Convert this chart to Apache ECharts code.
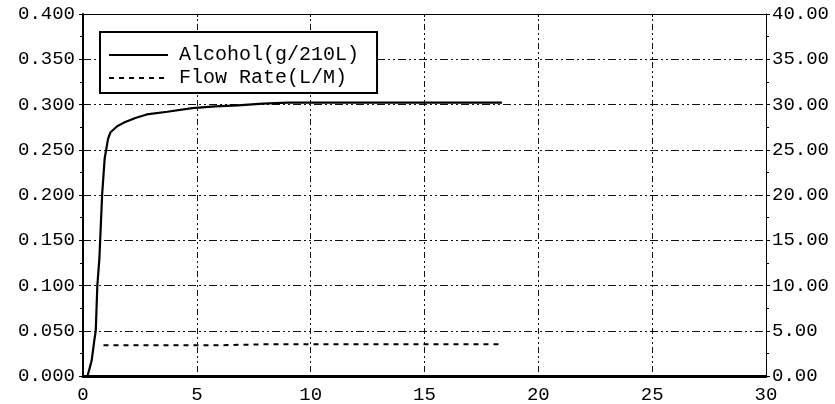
<!DOCTYPE html>
<html>
<head>
<meta charset="utf-8">
<script src="https://cdn.jsdelivr.net/npm/echarts@6/dist/echarts.min.js"></script>
<style>
html,body{margin:0;padding:0;background:#fff;}
#chart{width:835px;height:404px;}
</style>
</head>
<body>
<div id="chart"></div>
<script>
const alcoholTime  = [0, 0.2, 0.38, 0.5, 0.56, 0.63, 0.72, 0.84, 0.95, 1.1, 1.2, 1.5, 1.8, 2.3, 2.8, 3.7, 4.8, 5.8, 6.8, 7.9, 9, 12, 15, 18.4];
const alcoholValue = [0, 0, 0.017, 0.04, 0.05, 0.1, 0.13, 0.2, 0.24, 0.262, 0.269, 0.276, 0.28, 0.285, 0.289, 0.292, 0.296, 0.298, 0.299, 0.301, 0.302, 0.302, 0.302, 0.302];
const flowTime  = [0.9, 2, 4, 6, 8, 10, 12, 14, 16, 18.4];
const flowValue = [3.4, 3.4, 3.4, 3.4, 3.5, 3.5, 3.5, 3.5, 3.5, 3.5];
const seriesNames = ['Alcohol(g/210L)', 'Flow Rate(L/M)'];

const FONT = 'Liberation Mono';
const chart = echarts.init(document.getElementById('chart'), null, {renderer: 'canvas'});

function pairs(xs, ys) { return xs.map((x, i) => [x, ys[i]]); }

chart.setOption({
  animation: false,
  backgroundColor: '#fff',
  grid: {left: 83, right: 69, top: 14, bottom: 25, containLabel: false},
  legend: {
    orient: 'vertical',
    left: 100, top: 32,
    padding: [13, 18, 5, 8],
    itemGap: 3,
    itemWidth: 59,
    itemHeight: 14,
    borderColor: '#000',
    borderWidth: 2,
    backgroundColor: '#fff',
    borderRadius: 0,
    itemStyle: {color: 'rgba(0,0,0,0)', borderWidth: 0, opacity: 0},
    textStyle: {fontFamily: FONT, fontSize: 20, color: '#000', lineHeight: 20, padding: [0, 0, 0, 6]},
    data: seriesNames
  },
  xAxis: [{
    type: 'value', min: 0, max: 30, interval: 5, position: 'bottom',
    axisLine: {show: true, onZero: false, lineStyle: {color: '#000', width: 3}},
    axisTick: {show: false},
    axisLabel: {fontFamily: FONT, fontSize: 19, color: '#000', margin: 9},
    splitLine: {show: true, lineStyle: {color: '#111', width: 1, type: [2, 3, 2, 3, 6, 3]}}
  }, {
    type: 'value', min: 0, max: 30, interval: 5, position: 'top',
    axisLine: {show: true, onZero: false, lineStyle: {color: '#000', width: 1}},
    axisTick: {show: true, inside: true, length: 3, lineStyle: {color: '#000'}},
    axisLabel: {show: false},
    splitLine: {show: false}
  }],
  yAxis: [{
    type: 'value', min: 0, max: 0.4, interval: 0.05, position: 'left',
    axisLine: {show: true, onZero: false, lineStyle: {color: '#000', width: 2}},
    axisTick: {show: true, length: 4, lineStyle: {color: '#000'}},
    minorTick: {show: true, splitNumber: 2, length: 3, lineStyle: {color: '#000'}},
    axisLabel: {fontFamily: FONT, fontSize: 19, color: '#000', margin: 8, formatter: v => v.toFixed(3)},
    splitLine: {show: true, lineStyle: {color: '#111', width: 1, type: [8, 3, 2, 3, 2, 3]}}
  }, {
    type: 'value', min: 0, max: 40, interval: 5, position: 'right',
    axisLine: {show: true, onZero: false, lineStyle: {color: '#000', width: 1}},
    axisTick: {show: true, length: 4, lineStyle: {color: '#000'}},
    minorTick: {show: true, splitNumber: 2, length: 3, lineStyle: {color: '#000'}},
    axisLabel: {fontFamily: FONT, fontSize: 19, color: '#000', margin: 6, formatter: v => v.toFixed(2)},
    splitLine: {show: false}
  }],
  series: [{
    name: seriesNames[0], type: 'line', xAxisIndex: 0, yAxisIndex: 0,
    showSymbol: false, symbol: 'none',
    lineStyle: {color: '#000', width: 2.2, type: 'solid'},
    itemStyle: {color: '#000'},
    data: pairs(alcoholTime, alcoholValue)
  }, {
    name: seriesNames[1], type: 'line', xAxisIndex: 0, yAxisIndex: 1,
    showSymbol: false, symbol: 'none',
    lineStyle: {color: '#000', width: 2, type: [5, 5]},
    itemStyle: {color: '#000'},
    data: pairs(flowTime, flowValue)
  }]
});
</script>
</body>
</html>
